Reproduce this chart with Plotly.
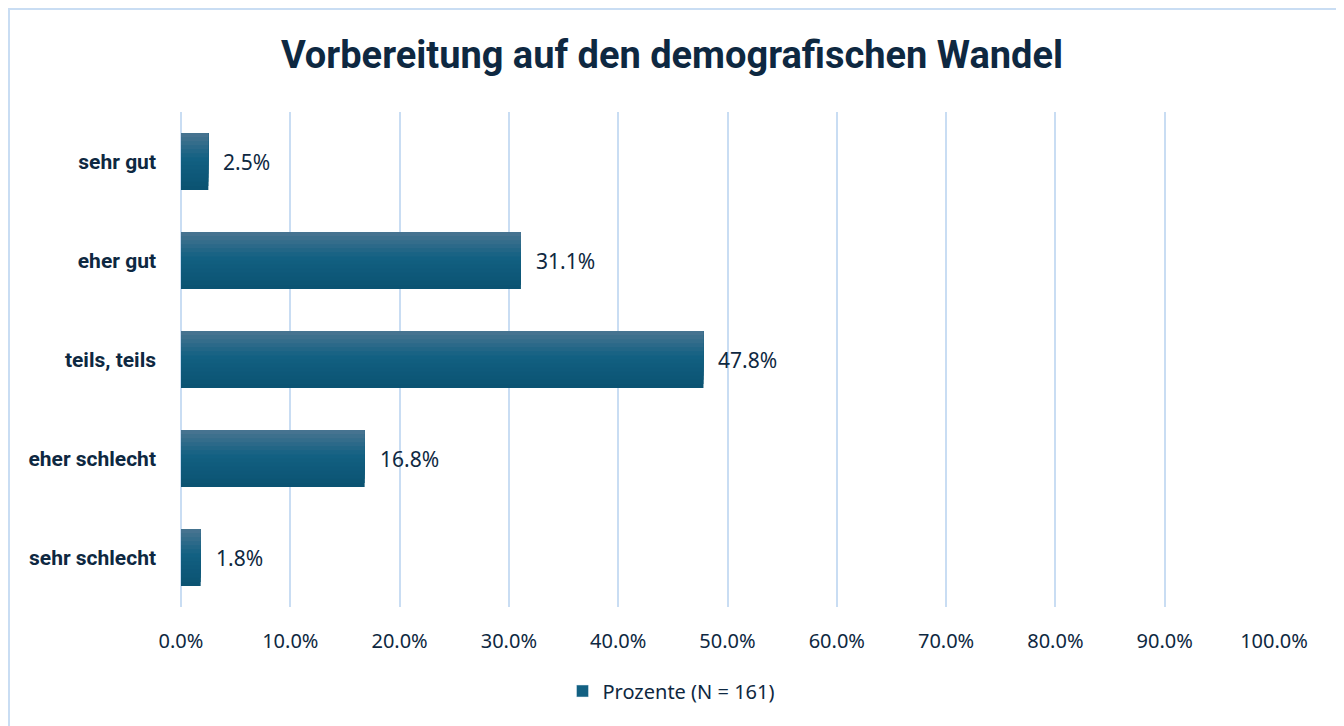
import plotly.graph_objects as go

categories = ["sehr gut", "eher gut", "teils, teils", "eher schlecht", "sehr schlecht"]
values = [2.5, 31.1, 47.8, 16.8, 1.8]
series_name = "Prozente (N = 161)"
title_text = "Vorbereitung auf den demografischen Wandel"
x_ticks = [0, 10, 20, 30, 40, 50, 60, 70, 80, 90, 100]

TEXT = "#0E2841"
GRID = "#C9DDF3"
BAR_W = 0.575

# page body has an 8px margin: figure is drawn from (8, 8)
W, H = 1336, 718
PL, PR, PT, PB = 173, 1266, 104, 599

top = (74, 117, 145)
mid = (18, 96, 130)
bot = (11, 82, 113)

def lerp(a, b, t):
    return tuple(int(round(a[i] + (b[i] - a[i]) * t)) for i in range(3))

def grad(t):
    if t < 0.45:
        return lerp(top, mid, t / 0.45)
    return lerp(mid, bot, (t - 0.45) / 0.55)

fig = go.Figure()
N = 14
for k in range(N):
    frac = 1 - k / N
    t = (frac * N - 0.5) / N
    c = grad(max(0, min(1, t)))
    fig.add_trace(go.Bar(
        y=categories, x=values, orientation="h",
        width=BAR_W * frac, offset=-BAR_W / 2,
        marker=dict(color="rgb(%d,%d,%d)" % c, line=dict(width=0)),
        name=series_name, showlegend=False,
        hoverinfo="skip" if k else None,
    ))

fig.add_trace(go.Bar(y=[None], x=[None], orientation="h", name=series_name,
                     marker=dict(color="rgb(%d,%d,%d)" % mid), showlegend=True))

for cat, v in zip(categories, values):
    fig.add_annotation(x=v, y=cat, text=f"{v:.1f}%", showarrow=False,
                       xanchor="left", xshift=13,
                       font=dict(family="Noto Sans", size=21, color=TEXT))

pw, ph = PR - PL, PB - PT
fig.update_layout(
    width=W, height=H,
    margin=dict(l=PL, r=W - PR, t=PT, b=H - PB, autoexpand=False),
    paper_bgcolor="white", plot_bgcolor="white",
    barmode="overlay",
    title=dict(text=f"<b>{title_text}</b>", x=(672 - 8) / W, xanchor="center", xref="container",
               y=1 - 47 / H, yanchor="middle",
               font=dict(family="Roboto", size=38, color=TEXT)),
    xaxis=dict(range=[0, 100], tickvals=x_ticks,
               ticktext=[f"{t:.1f}%" for t in x_ticks],
               showgrid=True, gridcolor=GRID, gridwidth=2,
               zeroline=True, zerolinecolor=GRID, zerolinewidth=2,
               showline=False, ticks="", ticklabelstandoff=20,
               tickangle=0,
               tickfont=dict(family="Noto Sans", size=20, color=TEXT)),
    yaxis=dict(autorange="reversed", showgrid=False, zeroline=False,
               showline=False, ticks="", ticklabelstandoff=24,
               tickfont=dict(family="Roboto", size=21, color=TEXT),
               tickprefix="<b>", ticksuffix="</b>"),
    legend=dict(orientation="h", x=(663 - PL) / pw, xanchor="center",
                y=(PB - 683) / ph, yanchor="middle",
                font=dict(family="Noto Sans", size=20, color=TEXT), itemwidth=30),
    showlegend=True,
    shapes=[dict(type="rect", xref="paper", yref="paper",
                 x0=(1 - PL) / pw, x1=(1332 - PL) / pw,
                 y0=(PB - 740) / ph, y1=(PB - 1) / ph,
                 line=dict(color=GRID, width=2), layer="below")],
)

fig.write_html("out.html")
